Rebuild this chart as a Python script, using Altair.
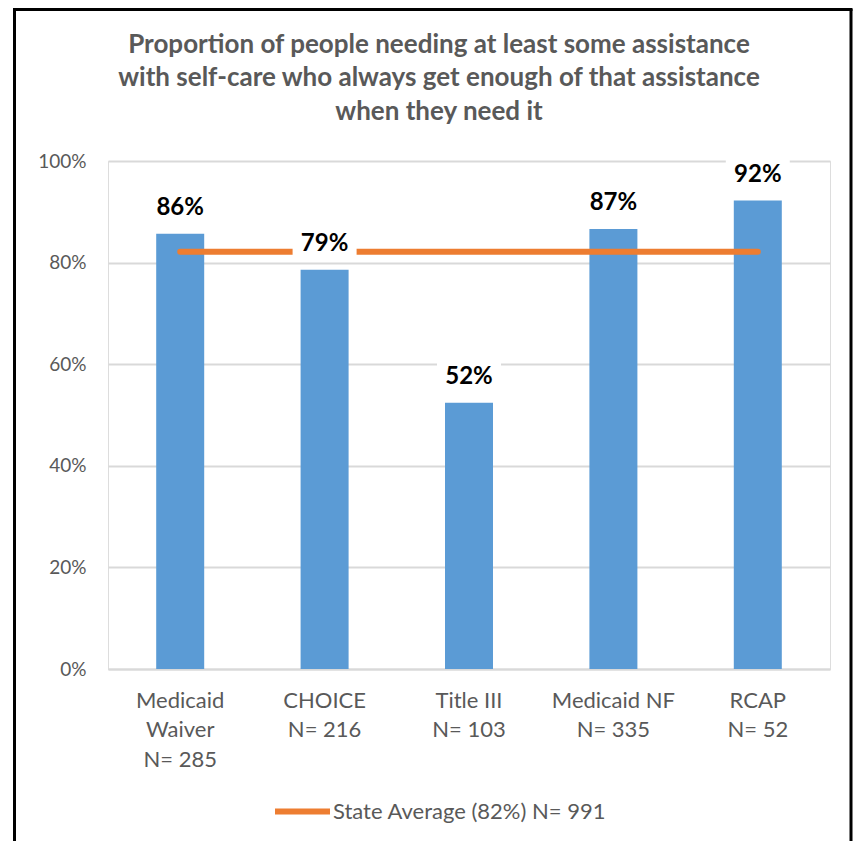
import altair as alt
import pandas as pd

# ---- data ----
categories = ["Medicaid Waiver", "CHOICE", "Title III", "Medicaid NF", "RCAP"]
tick_labels = ["Medicaid|Waiver|N= 285", "CHOICE|N= 216", "Title III|N= 103",
               "Medicaid NF|N= 335", "RCAP|N= 52"]
values = [0.857, 0.786, 0.524, 0.866, 0.922]
state_avg = 0.8215
avg_label = "State Average (82%) N= 991"
title_lines = ["Proportion of people needing at least some assistance",
               "with self-care who always get enough of that assistance",
               "when they need it"]

FONT = "Lato"
GREY = "#595959"

df = pd.DataFrame({
    "cat": tick_labels,
    "value": values,
    "avg": [state_avg] * len(categories),
    "series": [avg_label] * len(categories),
})

xenc = alt.X("cat:N", sort=tick_labels,
             scale=alt.Scale(paddingInner=0, paddingOuter=0),
             axis=alt.Axis(title=None, labelAngle=0, labelExpr="split(datum.label, '|')",
                           labelFont=FONT, labelFontSize=22, labelColor=GREY,
                           labelLineHeight=29.5, labelPadding=21, ticks=False,
                           domainColor="#D9D9D9", domainWidth=2, grid=False))
yscale = alt.Scale(domain=[0, 1])
yaxis = alt.Axis(title=None, format=".0%", values=[0, 0.2, 0.4, 0.6, 0.8, 1.0],
                 labelFont=FONT, labelFontSize=19, labelColor=GREY, labelPadding=22,
                 ticks=False, domain=False, gridColor="#D9D9D9", gridWidth=2)

base = alt.Chart(df)

bars = base.mark_bar(size=48, color="#5B9BD5").encode(
    x=xenc, y=alt.Y("value:Q", scale=yscale, axis=yaxis))

line = base.mark_line(strokeWidth=6, strokeCap="round").encode(
    x=alt.X("cat:N", sort=tick_labels),
    y=alt.Y("avg:Q"),
    color=alt.Color("series:N", scale=alt.Scale(range=["#ED7D31"]),
                    legend=alt.Legend(title=None, orient="none", legendX=164, legendY=620,
                                      symbolType="stroke", symbolSize=3025,
                                      symbolStrokeWidth=6, labelFont=FONT,
                                      labelFontSize=22, labelColor=GREY, labelLimit=0,
                                      labelOffset=0, padding=0)))

boxes = base.transform_calculate(
    lo="datum.value + 0.025", hi="datum.value + 0.085"
).mark_bar(size=64, color="white").encode(
    x=alt.X("cat:N", sort=tick_labels), y="lo:Q", y2="hi:Q")

texts = base.mark_text(dy=-19, baseline="alphabetic", font=FONT, fontSize=24,
                       fontWeight="bold", color="black").encode(
    x=alt.X("cat:N", sort=tick_labels), y="value:Q",
    text=alt.Text("value:Q", format=".0%"))

frame_df = pd.DataFrame({"k": [0]})
fr = alt.Chart(frame_df)
bstyle = dict(color="black", strokeWidth=3)
border = alt.layer(
    fr.mark_rule(**bstyle).encode(x=alt.value(-93.5), x2=alt.value(-93.5), y=alt.value(-152), y2=alt.value(680)),
    fr.mark_rule(**bstyle).encode(x=alt.value(743), x2=alt.value(743), y=alt.value(-152), y2=alt.value(680)),
    fr.mark_rule(**bstyle).encode(x=alt.value(-95), x2=alt.value(744.5), y=alt.value(-151.5), y2=alt.value(-151.5)),
)

chart = alt.layer(bars, line, boxes, texts, border).properties(
    width=722, height=508,
    title=alt.TitleParams(text=title_lines, font=FONT, fontSize=26, fontWeight="bold",
                          color=GREY, anchor="middle", dx=-30, offset=-117, lineHeight=33.5),
    autosize=alt.AutoSizeParams(type="none"),
    padding={"left": 100, "top": 153, "right": 23, "bottom": 172},
).configure_view(stroke=None).configure(background="white")

chart.save("out.html", embed_options={"renderer": "svg", "actions": False})
